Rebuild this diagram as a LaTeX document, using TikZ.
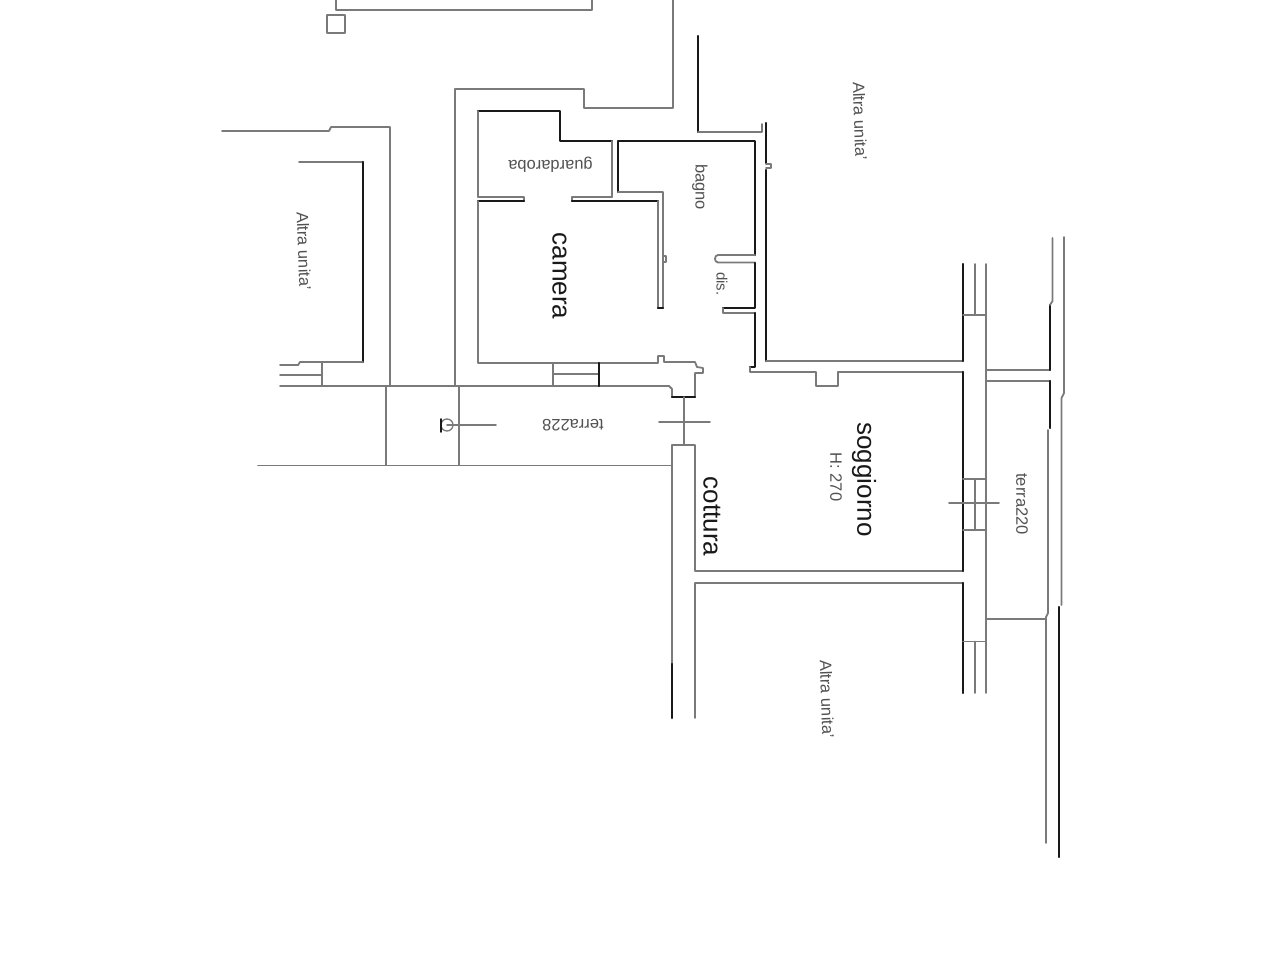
\documentclass[tikz,border=0pt]{standalone}
\usepackage{fontspec}
\setmainfont{Liberation Sans}
\tikzset{
  gw/.style={draw=black!52,line width=1.8pt,line join=round,line cap=round},
  bw/.style={draw=black!90,line width=2.2pt,line join=round,line cap=round},
  bigl/.style={inner sep=0pt,text=black!90,font=\fontsize{26}{26}\selectfont},
  smalll/.style={inner sep=0pt,text=black!68,font=\fontsize{16.5}{16.5}\selectfont}
}
\begin{document}
\begin{tikzpicture}[x=1pt,y=-1pt]
\useasboundingbox (0,0) rectangle (1280,960);
\fill[white] (0,0) rectangle (1280,960);
% top block
\draw[gw] (336,0) -- (336,10) -- (592,10) -- (592,0);
\draw[gw] (327,15) rectangle (345,33);
% outer wall above camera
\draw[gw] (673,0) -- (673,108) -- (584,108) -- (584,89) -- (455,89) -- (455,386);
\draw[bw] (698,36) -- (698,132);
\draw[gw] (698,132) -- (762,132) -- (762,124);
\draw[bw] (766,123) -- (766,163);
\draw[gw] (766,164) -- (771,164) -- (771,168) -- (766,168);
\draw[bw] (766,170) -- (766,361);
\draw[gw] (766,361) -- (963,361);
% closet
\draw[bw] (478,111) -- (560,111) -- (560,141) -- (612,141);
\draw[gw] (478,111) -- (478,197);
\draw[gw] (612,141) -- (612,197);
\draw[gw] (478,197) -- (524,197) -- (524,201);
\draw[bw] (478,201) -- (524,201);
\draw[gw] (612,197) -- (572,197) -- (572,201);
\draw[bw] (572,201) -- (658,201);
% bath
\draw[bw] (618,192) -- (618,141) -- (755,141) -- (755,255);
\draw[gw] (618,192) -- (663,192) -- (663,308);
\draw[gw] (658,201) -- (658,308);
\draw[bw] (658,308) -- (663,308);
\draw[gw] (663,256) -- (666,256) -- (666,262) -- (663,262);
\draw[gw] (755,255) -- (718,255) .. controls (714,255) and (714,262.5) .. (718,262.5) -- (755,262.5);
\draw[bw] (755,263) -- (755,308) -- (723,308);
\draw[gw] (723,308) -- (723,313) -- (755,313);
\draw[bw] (755,313) -- (755,367) -- (750,367);
\draw[gw] (750,367) -- (750,372) -- (816,372) -- (816,386) -- (838,386) -- (838,372) -- (963,372);
% camera
\draw[gw] (478,201) -- (478,363) -- (658,363) -- (658,356) -- (664,356) -- (664,362) -- (695,362) -- (697,367) -- (703,368) -- (703,373) -- (695,373) -- (695,397);
\draw[gw] (280,386) -- (669,386) -- (672,389) -- (672,397);
\draw[bw] (672,397) -- (695,397);
\draw[gw] (553,363) -- (553,386);
\draw[gw] (553,374) -- (599,374);
\draw[bw] (599,363) -- (599,386);
% door
\draw[gw] (684,397) -- (684,445);
\draw[gw] (659,422) -- (710,422);
% kitchen wall
\draw[gw] (672,465) -- (672,445) -- (695,445) -- (695,571) -- (963,571);
\draw[gw] (672,465) -- (672,664);
\draw[bw] (672,664) -- (672,718);
\draw[gw] (695,718) -- (695,583) -- (963,583);
% south corridor
\draw[gw] (258,465.5) -- (672,465.5);
\draw[gw] (386,386) -- (386,465);
\draw[gw] (459,386) -- (459,465);
\draw[gw] (447,425) -- (496,425);
\draw[gw,line width=1.3pt] (447,425) circle (6pt);
\draw[bw,line width=1.6pt] (441,419) -- (441,432);
% left unit
\draw[gw] (222,131) -- (329,131) -- (331,127) -- (390,127) -- (390,386);
\draw[gw] (299,162) -- (363,162);
\draw[bw] (363,162) -- (363,362);
\draw[gw] (363,362) -- (300,362) -- (298,365) -- (280,365);
\draw[gw] (322,362) -- (322,386);
\draw[gw] (280,375) -- (322,375);
% east wall
\draw[bw] (963,264) -- (963,361);
\draw[gw] (975,264) -- (975,315);
\draw[gw] (963,315) -- (986,315);
\draw[gw] (986,264) -- (986,693);
\draw[bw] (963,372) -- (963,571);
\draw[bw] (963,583) -- (963,693);
\draw[gw] (963,479) -- (986,479);
\draw[gw] (963,530) -- (986,530);
\draw[gw] (975,479) -- (975,530);
\draw[gw] (949,503) -- (999,503);
\draw[gw] (963,641.5) -- (986,641.5);
\draw[gw] (975,641.5) -- (975,693);
% terrace
\draw[gw] (986,370) -- (1050,370);
\draw[bw] (1050,370) -- (1050,305);
\draw[gw] (1050,305) -- (1052.5,301) -- (1052.5,238);
\draw[gw] (986,381) -- (1050,381);
\draw[bw] (1050,381) -- (1050,428);
\draw[gw] (1048,430) -- (1048,613) -- (1046,617) -- (1046,843);
\draw[gw] (986,619) -- (1046,619);
\draw[gw] (1064,237) -- (1064,393) -- (1061.5,398) -- (1061.5,605);
\draw[bw] (1059,607) -- (1059,857);
% labels
\node[smalll,rotate=180] (guard) at (550.5,164.5) {guardaroba};
\node[bigl,rotate=-90] (cam) at (559.5,276) {camera};
\node[smalll,rotate=-90] (bagno) at (700,187) {bagno};
\node[smalll,rotate=-90,font=\fontsize{15}{15}\selectfont] (dis) at (722,284) {dis.};
\node[bigl,rotate=-90] (sog) at (864,479.5) {soggiorno};
\node[smalll,rotate=-90] (h) at (836,477) {H: 270};
\node[bigl,rotate=-90] (cot) at (712,516.5) {cottura};
\node[smalll,rotate=-90] (t1) at (1022,504) {terra220};
\node[smalll,rotate=180] (t2) at (573,425) {terra228};
\node[smalll,rotate=-88] (a1) at (860,121) {Altra unita'};
\node[smalll,rotate=-88] (a2) at (304,251) {Altra unita'};
\node[smalll,rotate=-88] (a3) at (827,699) {Altra unita'};
\end{tikzpicture}
\end{document}
